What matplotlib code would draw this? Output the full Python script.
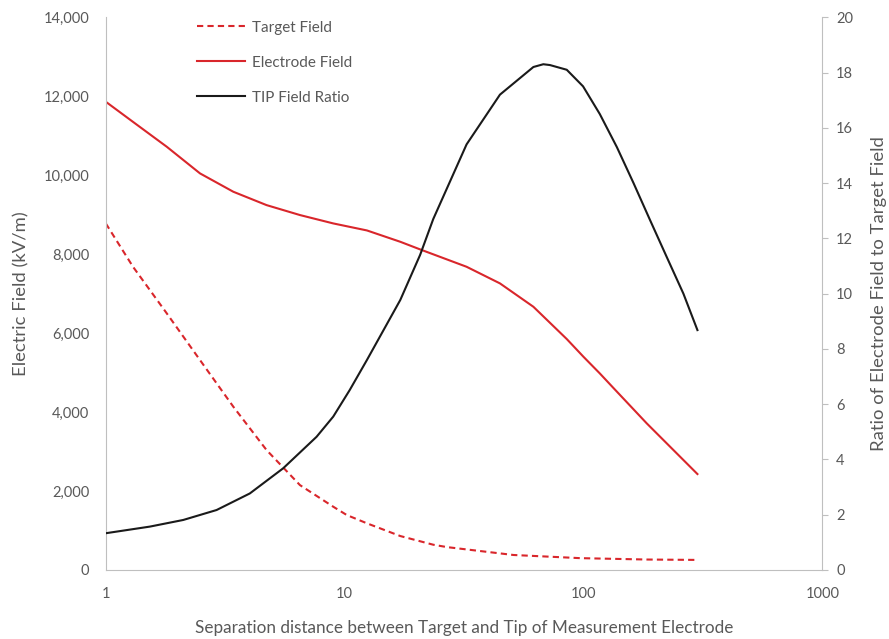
import matplotlib
matplotlib.use("Agg")
import matplotlib.pyplot as plt
from matplotlib.ticker import FuncFormatter, FixedLocator, NullLocator

plt.rcParams['font.family'] = ['Lato', 'DejaVu Sans']

# values at several separation distances
target_dist = [1, 1.3, 1.8, 2.48, 3.42, 4.71, 6.5, 8.96, 10.2, 12.4, 17.1, 23.5, 26.8,
               50.9, 96.8, 184, 300]
target_field = [8778, 7680, 6500, 5317, 4135, 3038, 2150, 1603, 1393, 1182, 860, 640, 580,
                380, 300, 265, 255]

electrode_dist = [1, 1.3, 1.8, 2.48, 3.42, 4.71, 6.5, 8.96, 12.4, 17.1, 20.7, 32.4, 44.7,
                  61.7, 85.1, 100, 117, 133, 184, 300]
electrode_field = [11860, 11350, 10720, 10045, 9580, 9242, 8990, 8778, 8600, 8313, 8120,
                   7680, 7259, 6667, 5850, 5400, 4980, 4620, 3714, 2430]

ratio_dist = [1, 1.53, 2.11, 2.91, 4.01, 5.53, 7.63, 8.96, 10.5, 12.4, 17.1, 20.7, 23.5,
              32.4, 44.7, 61.7, 67.9, 72.4, 85.1, 99.6, 117, 138, 162, 190, 223, 262, 300]
tip_ratio = [1.33, 1.57, 1.81, 2.17, 2.77, 3.68, 4.82, 5.55, 6.51, 7.6, 9.77, 11.4, 12.7,
             15.4, 17.2, 18.2, 18.3, 18.27, 18.1, 17.5, 16.5, 15.3, 14.0, 12.66, 11.33, 10.0, 8.68]

grey = '#595959'
spine = '#BFBFBF'
red = '#D9262B'

fig = plt.figure(figsize=(8.89, 6.39), dpi=100)
ax = fig.add_axes([0.119, 0.108, 0.806, 0.865])
ax2 = ax.twinx()

l1, = ax.plot(target_dist, target_field, color=red, lw=1.5, ls=(0, (3, 2)), label='Target Field')
l2, = ax.plot(electrode_dist, electrode_field, color=red, lw=1.5, label='Electrode Field')
l3, = ax2.plot(ratio_dist, tip_ratio, color='#1a1a1a', lw=1.5, label='TIP Field Ratio')

ax.set_xscale('log')
ax.set_xlim(1, 1000)
ax.set_ylim(0, 14000)
ax2.set_ylim(0, 20)
ax.xaxis.set_major_locator(FixedLocator([1, 10, 100, 1000]))
ax.xaxis.set_minor_locator(NullLocator())
ax.xaxis.set_major_formatter(FuncFormatter(lambda v, p: '%d' % v))
ax.set_yticks(range(0, 14001, 2000))
ax.yaxis.set_major_formatter(FuncFormatter(lambda v, p: '{:,.0f}'.format(v)))
ax2.set_yticks(range(0, 21, 2))

for a in (ax, ax2):
    for s in a.spines.values():
        s.set_color(spine)
    a.spines['top'].set_visible(False)
ax.spines['right'].set_visible(False)
ax2.spines['left'].set_visible(False)
ax2.spines['bottom'].set_visible(False)

ax.tick_params(axis='x', length=0, pad=12, colors=grey, labelsize=10.5)
ax.tick_params(axis='y', length=0, pad=12, colors=grey, labelsize=10.5)
ax2.tick_params(axis='y', length=4, width=0.8, color=spine, pad=6, labelcolor=grey, labelsize=10.5)

ax.set_xlabel('Separation distance between Target and Tip of Measurement Electrode',
              color=grey, fontsize=12.3, labelpad=14)
ax.set_ylabel('Electric Field (kV/m)', color=grey, fontsize=13.3, labelpad=10)
ax2.set_ylabel('Ratio of Electrode Field to Target Field', color=grey, fontsize=13.3, labelpad=13)

leg = ax.legend(handles=[l1, l2, l3], loc='upper left', bbox_to_anchor=(0.119, 1.005),
                borderaxespad=0, frameon=False, fontsize=11, handlelength=3.14,
                labelspacing=1.375, handletextpad=0.45)
for t in leg.get_texts():
    t.set_color(grey)

fig.savefig('out.png', dpi=100)
